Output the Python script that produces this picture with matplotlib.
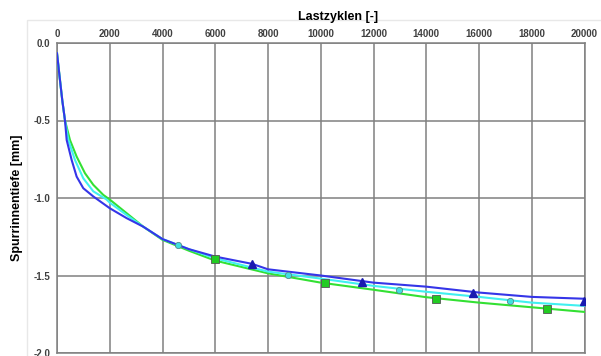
import matplotlib.pyplot as plt
from matplotlib.patches import Rectangle

plt.rcParams['font.family'] = ['Liberation Sans', 'DejaVu Sans']

# measured curves (Lastzyklen vs Spurrinnentiefe)
x_blue = [0, 100, 200, 303, 367, 556, 745, 997, 1376, 2000, 2640, 3270,
          4000, 5000, 6000, 7400, 8000, 10000, 12000, 14000, 16000, 18000, 20000]
y_blue = [-0.066, -0.22, -0.37, -0.5, -0.626, -0.755, -0.862, -0.937, -0.99, -1.066,
          -1.13, -1.185, -1.265, -1.33, -1.378, -1.425, -1.46, -1.50, -1.546,
          -1.572, -1.61, -1.638, -1.65]

x_cyan = [0, 100, 200, 303, 430, 682, 997, 1376, 1882, 2000, 2640, 3270, 4000,
          5000, 6000, 8000, 10000, 12000, 14000, 16000, 18000, 20000]
y_cyan = [-0.066, -0.22, -0.37, -0.5, -0.626, -0.755, -0.873, -0.957, -1.01, -1.03,
          -1.11, -1.185, -1.265, -1.33, -1.389, -1.475, -1.52, -1.567, -1.605, -1.638,
          -1.675, -1.696]

x_green = [0, 100, 200, 303, 492, 745, 1060, 1376, 1755, 2000, 2640, 3270, 4000,
           5000, 6000, 8000, 10000, 12000, 14000, 16000, 18000, 20000]
y_green = [-0.066, -0.22, -0.37, -0.5, -0.626, -0.733, -0.84, -0.915, -0.98, -1.01,
           -1.098, -1.185, -1.27, -1.34, -1.404, -1.486, -1.546, -1.592, -1.64, -1.675,
           -1.705, -1.735]

# marker positions
mx_blue = [7400, 11580, 15770, 19988]
my_blue = [-1.425, -1.544, -1.615, -1.665]
mx_cyan = [4595, 8775, 12966, 17170]
my_cyan = [-1.303, -1.497, -1.594, -1.665]
mx_green = [5985, 10178, 14368, 18587]
my_green = [-1.395, -1.55, -1.654, -1.714]

xticks = list(range(0, 20001, 2000))
yticks = [0.0, -0.5, -1.0, -1.5, -2.0]

fig = plt.figure(figsize=(6.01, 3.56), dpi=100)
fig.patches.append(Rectangle((27 / 601, -0.1), 1.2, 1 - 20 / 356 + 0.1,
                             transform=fig.transFigure, fill=False,
                             edgecolor='#e8e8e8', lw=1, zorder=-5))
ax = fig.add_axes([57 / 601, 3 / 356, 527.5 / 601, 310 / 356])

ax.plot(x_green, y_green, color='#33e033', lw=1.5, zorder=3)
ax.plot(x_cyan, y_cyan, color='#40f0f0', lw=1.5, zorder=4)
ax.plot(x_blue, y_blue, color='#3535e8', lw=1.5, zorder=5)

ax.plot(mx_green, my_green, 's', ms=6, color='#22cc22', mec='#555555', mew=0.6, zorder=6)
ax.plot(mx_cyan, my_cyan, 'o', ms=4.5, color='#40e0e0', mec='#558888', mew=0.6, zorder=6)
ax.plot(mx_blue, my_blue, '^', ms=6, color='#1a1ab0', mec='#1a1ab0', zorder=6)

ax.set_xlim(0, 20000)
ax.set_ylim(-2.0, 0.0)
ax.set_xticks(xticks)
ax.set_yticks(yticks)
ax.set_xticklabels([str(t) for t in xticks])
ax.set_yticklabels(['%.1f' % t for t in yticks])
ax.xaxis.tick_top()
ax.xaxis.set_label_position('top')
ax.tick_params(axis='both', length=0, labelsize=7, labelcolor='#404040', pad=3)
ax.tick_params(axis='y', pad=5)
for lab in ax.get_xticklabels() + ax.get_yticklabels():
    lab.set_fontweight('bold')

ax.grid(True, color='#808080', lw=1.1, zorder=1)
for s in ax.spines.values():
    s.set_color('#808080')
    s.set_linewidth(1.1)

ax.set_xlabel('Lastzyklen [-]', fontsize=9, fontweight='bold', labelpad=3)
ax.xaxis.set_label_coords(0.533, 1.075)
ax.set_ylabel('Spurrinnentiefe [mm]', fontsize=9, fontweight='bold')
ax.yaxis.set_label_coords(-0.065, 0.5)

plt.savefig('out.png', dpi=100)
